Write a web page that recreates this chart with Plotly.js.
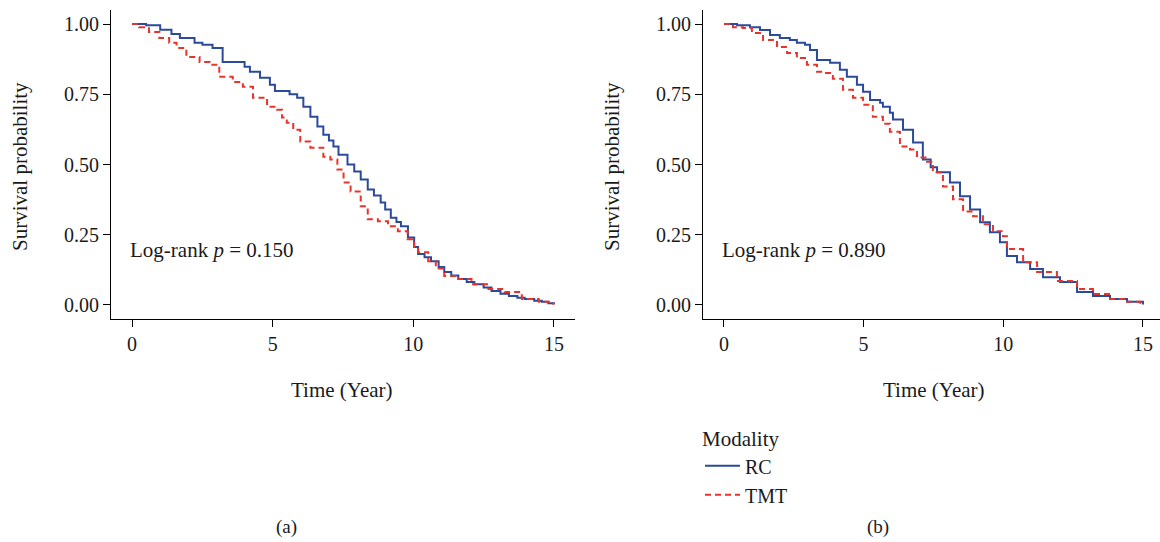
<!DOCTYPE html>
<html>
<head>
<meta charset="utf-8">
<script src="https://cdn.plot.ly/plotly-3.0.1.min.js"></script>
<style>html,body{margin:0;padding:0;background:#fff;}</style>
</head>
<body>
<div id="chart" style="width:1160px;height:542px;"></div>
<script>
// ---- data ----
const seriesNames = ["RC", "TMT"];
const yTickVals = [0, 0.25, 0.5, 0.75, 1];
const yTickText = ["0.00", "0.25", "0.50", "0.75", "1.00"];
const xTickVals = [0, 5, 10, 15];
const xTickText = ["0", "5", "10", "15"];

const aRC_t = [0, 0.5, 1.0, 1.4, 1.7, 2.22, 2.5, 2.86, 3.22, 4.0, 4.19, 4.55, 4.9, 5.08, 5.6, 5.87, 6.09, 6.34, 6.59, 6.8, 7.0, 7.16, 7.34, 7.66, 7.9, 8.13, 8.38, 8.6, 8.84, 9.0, 9.2, 9.4, 9.56, 9.81, 10.03, 10.17, 10.4, 10.63, 10.9, 11.1, 11.35, 11.6, 11.9, 12.17, 12.5, 12.78, 13.1, 13.4, 13.7, 13.96, 14.3, 14.57, 14.8, 15];
const aRC_s = [1.0, 0.996, 0.98, 0.965, 0.95, 0.933, 0.926, 0.915, 0.865, 0.848, 0.83, 0.809, 0.784, 0.762, 0.75, 0.738, 0.706, 0.67, 0.635, 0.606, 0.585, 0.564, 0.535, 0.5, 0.475, 0.447, 0.411, 0.39, 0.365, 0.34, 0.31, 0.295, 0.28, 0.24, 0.206, 0.181, 0.17, 0.156, 0.135, 0.117, 0.105, 0.092, 0.082, 0.074, 0.062, 0.05, 0.04, 0.032, 0.026, 0.021, 0.015, 0.011, 0.006, 0.003];

const aTMT_t = [0, 0.25, 0.6, 0.97, 1.32, 1.58, 1.93, 2.4, 2.76, 3.1, 3.58, 3.94, 4.3, 4.8, 5.16, 5.33, 5.5, 5.73, 5.98, 6.34, 6.8, 7.05, 7.3, 7.52, 7.77, 8.13, 8.38, 8.74, 9.1, 9.45, 9.8, 10.03, 10.17, 10.53, 10.8, 11.1, 11.6, 12.07, 12.67, 13.25, 13.86, 14.46, 14.82, 15];
const aTMT_s = [1.0, 0.989, 0.972, 0.95, 0.933, 0.915, 0.883, 0.865, 0.855, 0.812, 0.794, 0.777, 0.738, 0.706, 0.695, 0.667, 0.649, 0.624, 0.582, 0.56, 0.528, 0.518, 0.482, 0.436, 0.404, 0.351, 0.305, 0.298, 0.28, 0.262, 0.234, 0.206, 0.188, 0.156, 0.13, 0.103, 0.092, 0.074, 0.057, 0.046, 0.021, 0.011, 0.004, 0.002];

const bRC_t = [0, 0.47, 0.93, 1.29, 1.65, 2.0, 2.36, 2.61, 2.9, 3.08, 3.33, 3.8, 4.15, 4.4, 4.76, 4.98, 5.23, 5.59, 5.69, 5.94, 6.05, 6.41, 6.77, 7.12, 7.4, 7.63, 8.09, 8.45, 8.81, 9.17, 9.52, 9.88, 10.13, 10.49, 10.96, 11.42, 12.03, 12.64, 13.21, 13.82, 14.43, 15];
const bRC_s = [1.0, 0.996, 0.989, 0.979, 0.961, 0.95, 0.943, 0.933, 0.926, 0.908, 0.872, 0.862, 0.837, 0.812, 0.784, 0.759, 0.73, 0.72, 0.706, 0.684, 0.66, 0.624, 0.578, 0.518, 0.49, 0.472, 0.436, 0.387, 0.34, 0.294, 0.259, 0.223, 0.174, 0.152, 0.128, 0.099, 0.082, 0.046, 0.032, 0.021, 0.011, 0.002];

const bTMT_t = [0, 0.32, 0.68, 1.0, 1.4, 1.9, 2.26, 2.61, 2.97, 3.33, 3.54, 3.9, 4.26, 4.62, 4.98, 5.33, 5.69, 5.94, 6.3, 6.66, 6.91, 7.27, 7.48, 7.84, 8.2, 8.56, 8.92, 9.27, 9.63, 9.99, 10.13, 10.24, 10.71, 11.21, 11.92, 12.64, 13.21, 13.82, 14.43, 14.9];
const bTMT_s = [1.0, 0.989, 0.986, 0.968, 0.943, 0.918, 0.897, 0.879, 0.855, 0.83, 0.826, 0.805, 0.766, 0.738, 0.713, 0.67, 0.645, 0.617, 0.564, 0.553, 0.525, 0.51, 0.472, 0.422, 0.376, 0.333, 0.316, 0.287, 0.262, 0.245, 0.209, 0.199, 0.152, 0.117, 0.085, 0.057, 0.039, 0.021, 0.011, 0.002];

const pTexts = ["Log-rank <i>p</i> = 0.150", "Log-rank <i>p</i> = 0.890"];
const panelLabels = ["(a)", "(b)"];

// ---- styling ----
const W = 1160, H = 542;
const px = v => v / W;
const py = v => 1 - v / H;
const FONT = "Liberation Serif, Times New Roman, serif";
const BLUE = "#2b4a9b";
const RED = "#e8332a";
const TXT = "#1a1a1a";

function trace(t, s, name, color, dash, xa, ya, show) {
  return {
    x: t, y: s, type: "scatter", mode: "lines", name: name,
    line: {color: color, width: 2, dash: dash, shape: "hv"},
    xaxis: xa, yaxis: ya, showlegend: show, legendgroup: name,
    hoverinfo: "skip"
  };
}

const data = [
  trace(aRC_t, aRC_s, seriesNames[0], BLUE, "solid", "x", "y", false),
  trace(aTMT_t, aTMT_s, seriesNames[1], RED, "6px,4px", "x", "y", false),
  trace(bRC_t, bRC_s, seriesNames[0], BLUE, "solid", "x2", "y2", true),
  trace(bTMT_t, bTMT_s, seriesNames[1], RED, "6px,4px", "x2", "y2", true)
];

const yDomain = [py(319), py(10)];
function xAxis(domain, range, anchor) {
  return {
    domain: domain, range: range, anchor: anchor,
    showline: true, linecolor: "#000", linewidth: 1,
    ticks: "outside", ticklen: 7, tickcolor: "#000", tickwidth: 1,
    tickvals: xTickVals, ticktext: xTickText,
    tickfont: {family: FONT, size: 20, color: TXT},
    showgrid: false, zeroline: false, fixedrange: true
  };
}
function yAxis(anchor) {
  return {
    domain: yDomain, range: [-0.05, 1.05], anchor: anchor,
    showline: true, linecolor: "#000", linewidth: 1,
    ticks: "outside", ticklen: 7, tickcolor: "#000", tickwidth: 1,
    tickvals: yTickVals, ticktext: yTickText,
    tickfont: {family: FONT, size: 20, color: TXT},
    showgrid: false, zeroline: false, fixedrange: true
  };
}

const txt = (text, x, y, opts) => Object.assign({
  text: text, x: x, y: y, xref: "paper", yref: "paper", showarrow: false,
  xanchor: "center", yanchor: "middle",
  font: {family: FONT, size: 21, color: TXT}
}, opts || {});

const layout = {
  width: W, height: H, autosize: false,
  margin: {l: 0, r: 0, t: 0, b: 0},
  paper_bgcolor: "#fff", plot_bgcolor: "#fff",
  xaxis: xAxis([px(111), px(575)], [-0.75, 15.75], "y"),
  yaxis: yAxis("x"),
  xaxis2: xAxis([px(703), 1], [-0.75, 15.61], "y2"),
  yaxis2: yAxis("x2"),
  showlegend: true,
  legend: {
    x: px(700), y: py(419), xanchor: "left", yanchor: "top",
    title: {text: "Modality", font: {family: FONT, size: 21, color: TXT}},
    font: {family: FONT, size: 20, color: TXT},
    itemwidth: 35,
    bgcolor: "rgba(0,0,0,0)", borderwidth: 0, tracegroupgap: 0
  },
  annotations: [
    txt("Survival probability", px(20), py(167), {textangle: -90}),
    txt("Survival probability", px(612), py(167), {textangle: -90}),
    txt("Time (Year)", px(342), py(390)),
    txt("Time (Year)", px(934), py(390)),
    txt(pTexts[0], px(128), py(250), {xanchor: "left"}),
    txt(pTexts[1], px(720), py(250), {xanchor: "left"}),
    txt(panelLabels[0], px(286), py(527), {font: {family: FONT, size: 19, color: TXT}}),
    txt(panelLabels[1], px(878), py(527), {font: {family: FONT, size: 19, color: TXT}})
  ]
};

Plotly.newPlot("chart", data, layout, {displayModeBar: false, staticPlot: true});
</script>
</body>
</html>
